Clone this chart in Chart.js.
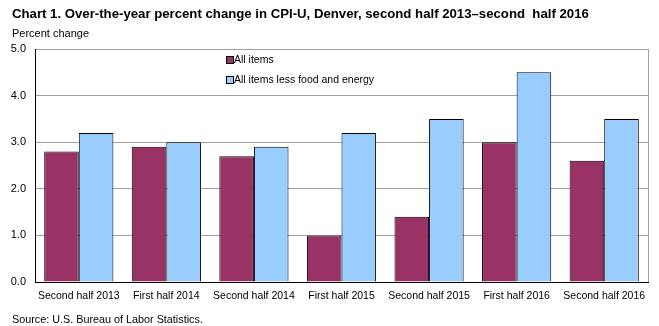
<!DOCTYPE html>
<html>
<head>
<meta charset="utf-8">
<script src="https://cdn.jsdelivr.net/npm/chart.js@4"></script>
<style>
  html, body { margin: 0; padding: 0; background: #fff; }
  #wrap { width: 659px; height: 326px; position: relative; }
</style>
</head>
<body>
<div id="wrap"><canvas id="cpiChart"></canvas></div>
<script>
const periods = ['Second half 2013', 'First half 2014', 'Second half 2014', 'First half 2015',
                 'Second half 2015', 'First half 2016', 'Second half 2016'];
const allItems = [2.8, 2.9, 2.7, 1.0, 1.4, 3.0, 2.6];
const coreItems = [3.2, 3.0, 2.9, 3.2, 3.5, 4.5, 3.5];
const seriesNames = ['All items', 'All items less food and energy'];

const titleText = 'Chart 1. Over-the-year percent change in CPI-U, Denver, second half 2013\u2013second  half 2016';
const FONT = 'Arial, "Liberation Sans", sans-serif';

// text, legend and right border drawn by hand to match the BLS layout
const decorations = {
  id: 'decorations',
  afterDraw(chart) {
    const { ctx, chartArea: a } = chart;
    ctx.save();
    // right border of plot
    ctx.strokeStyle = '#a0a0a0';
    ctx.lineWidth = 1;
    ctx.beginPath();
    ctx.moveTo(a.right + 0.5, a.top);
    ctx.lineTo(a.right + 0.5, a.bottom);
    ctx.stroke();

    ctx.fillStyle = '#000';
    ctx.textBaseline = 'alphabetic';
    ctx.textAlign = 'left';
    ctx.font = 'bold 13.2px ' + FONT;
    ctx.fillText(titleText, 12, 18);
    ctx.font = '11px ' + FONT;
    ctx.fillText('Percent change', 12, 37);
    ctx.font = '10.8px ' + FONT;
    ctx.fillText('Source: U.S. Bureau of Labor Statistics.', 12, 323);

    // legend inside plot
    ctx.font = '10.5px ' + FONT;
    chart.data.datasets.forEach((ds, i) => {
      const y = 60 + i * 20;
      ctx.fillStyle = ds.backgroundColor;
      ctx.fillRect(227, y - 3, 6, 6);
      ctx.strokeStyle = '#000';
      ctx.strokeRect(226.5, y - 3.5, 7, 7);
      ctx.fillStyle = '#000';
      ctx.textBaseline = 'middle';
      ctx.fillText(ds.label, 234, y);
    });
    ctx.restore();
  }
};

new Chart(document.getElementById('cpiChart'), {
  type: 'bar',
  data: {
    labels: periods,
    datasets: [
      { label: seriesNames[0], data: allItems, backgroundColor: '#993366', borderColor: '#000', borderWidth: 1 },
      { label: seriesNames[1], data: coreItems, backgroundColor: '#99CCFF', borderColor: '#000', borderWidth: 1 }
    ]
  },
  options: {
    responsive: true, maintainAspectRatio: false, animation: false,
    layout: { padding: { top: 49, right: 11, left: 0, bottom: 0 } },
    categoryPercentage: 0.79, barPercentage: 1.0,
    plugins: { legend: { display: false }, title: { display: false }, tooltip: { enabled: false } },
    scales: {
      x: {
        grid: { display: false, drawTicks: false },
        border: { color: '#000', width: 1 },
        ticks: { color: '#000', font: { family: FONT, size: 10.5 }, padding: 8, maxRotation: 0, autoSkip: false },
        afterFit: s => { s.height = 44; }
      },
      y: {
        min: 0, max: 5,
        ticks: { stepSize: 1, color: '#000', font: { family: FONT, size: 11 }, padding: 9,
                 callback: v => Number(v).toFixed(1) },
        grid: { color: '#a0a0a0', drawTicks: false },
        border: { color: '#000', width: 1 },
        afterFit: s => { s.width = 35; }
      }
    }
  },
  plugins: [decorations]
});
</script>
</body>
</html>
